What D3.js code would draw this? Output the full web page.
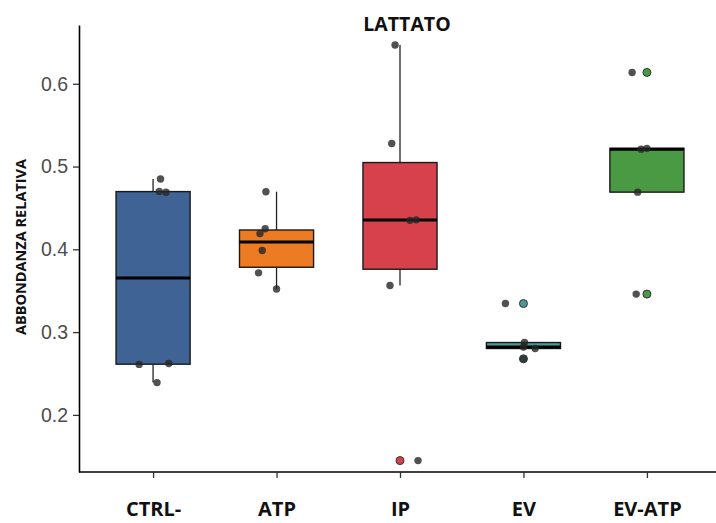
<!DOCTYPE html>
<html>
<head>
<meta charset="utf-8">
<script src="https://cdn.jsdelivr.net/npm/d3@7"></script>
<style>
  body { margin: 0; background: #fff; }
  svg { display: block; }
</style>
</head>
<body>
<svg width="716" height="523"></svg>
<script>
// groups and their fill colours
var groups = ["CTRL-", "ATP", "IP", "EV", "EV-ATP"];
var colors = ["#3e6394", "#ec7b23", "#d7414b", "#4c9a93", "#4a9a44"];

var ctrl   = [0.485, 0.470, 0.469, 0.262, 0.261, 0.239];
var atp    = [0.4696, 0.4248, 0.419, 0.3986, 0.3716, 0.352];
var ip     = [0.6468, 0.5279, 0.4350, 0.4356, 0.3563, 0.1448];
var ev     = [0.3345, 0.2874, 0.2820, 0.2802, 0.2677];
var evatp  = [0.6137, 0.521, 0.522, 0.4691, 0.3459];
var values = [ctrl, atp, ip, ev, evatp];

// horizontal jitter of each point, as a fraction of the category step
var jitter = [
  [0.06, 0.05, 0.105, 0.127, -0.113, 0.032],
  [-0.086, -0.092, -0.134, -0.116, -0.146, 0.0],
  [-0.04, -0.067, 0.081, 0.132, -0.081, 0.146],
  [-0.146, 0.008, 0.0, 0.095, 0.0],
  [-0.12, -0.047, 0.0, -0.075, -0.087]
];

var yTicks = [0.2, 0.3, 0.4, 0.5, 0.6];

var svg = d3.select("svg");

var x = d3.scalePoint().domain(groups).range([79, 721]).padding(0.6);
var y = d3.scaleLinear().domain([0.131, 0.671]).range([472, 25]);
var step = x.step();
var boxW = step * 0.6;

// y axis
var yAxis = svg.append("g")
  .attr("transform", "translate(79,0)")
  .call(d3.axisLeft(y).tickValues(yTicks).tickSize(6).tickSizeOuter(0).tickPadding(5)
    .tickFormat(d3.format(".1f")));
yAxis.select(".domain").attr("stroke", "#000").attr("stroke-width", 1.6);
yAxis.selectAll(".tick line").attr("stroke", "#333").attr("stroke-width", 1.3);
yAxis.selectAll(".tick text")
  .attr("font-family", "Liberation Sans, Arial, sans-serif")
  .attr("font-size", "19.5px")
  .attr("fill", "#4d4d4d");

// x axis
var xAxis = svg.append("g")
  .attr("transform", "translate(0,472)")
  .call(d3.axisBottom(x).tickSize(6).tickSizeOuter(0).tickPadding(24));
xAxis.select(".domain").attr("d", "M79,0H716").attr("stroke", "#000").attr("stroke-width", 1.6);
xAxis.selectAll(".tick line").attr("stroke", "#333").attr("stroke-width", 1.3);
xAxis.selectAll(".tick text")
  .attr("font-family", "Open Sans, sans-serif")
  .attr("font-weight", "bold")
  .attr("font-size", "20px")
  .attr("fill", "#111");

// title and y label
svg.append("text")
  .attr("x", 407).attr("y", 31)
  .attr("text-anchor", "middle")
  .attr("font-family", "Open Sans, sans-serif")
  .attr("font-weight", "bold")
  .attr("font-size", "19.5px")
  .attr("fill", "#111")
  .text("LATTATO");

svg.append("text")
  .attr("transform", "translate(26,247) rotate(-90)")
  .attr("text-anchor", "middle")
  .attr("font-family", "Open Sans, sans-serif")
  .attr("font-weight", "bold")
  .attr("font-size", "14.5px")
  .attr("fill", "#111")
  .text("ABBONDANZA RELATIVA");

// boxplot statistics (ggplot style, R type 7 quantiles)
var stats = values.map(function (v, i) {
  var s = v.slice().sort(d3.ascending);
  var q1 = d3.quantile(s, 0.25), med = d3.quantile(s, 0.5), q3 = d3.quantile(s, 0.75);
  var iqr = q3 - q1;
  var inside = s.filter(d => d >= q1 - 1.5 * iqr && d <= q3 + 1.5 * iqr);
  return {
    group: groups[i], color: colors[i],
    q1: q1, med: med, q3: q3,
    lo: d3.min(inside), hi: d3.max(inside),
    out: s.filter(d => d < q1 - 1.5 * iqr || d > q3 + 1.5 * iqr)
  };
});

var box = svg.append("g").selectAll("g").data(stats).enter().append("g");

box.append("line")
  .attr("x1", d => x(d.group)).attr("x2", d => x(d.group))
  .attr("y1", d => y(d.hi)).attr("y2", d => y(d.q3))
  .attr("stroke", "#222").attr("stroke-width", 1.3);
box.append("line")
  .attr("x1", d => x(d.group)).attr("x2", d => x(d.group))
  .attr("y1", d => y(d.q1)).attr("y2", d => y(d.lo))
  .attr("stroke", "#222").attr("stroke-width", 1.3);

box.append("rect")
  .attr("x", d => x(d.group) - boxW / 2)
  .attr("width", boxW)
  .attr("y", d => y(d.q3))
  .attr("height", d => y(d.q1) - y(d.q3))
  .attr("fill", d => d.color)
  .attr("stroke", "#1a1a1a")
  .attr("stroke-width", 1.4);

box.append("line")
  .attr("x1", d => x(d.group) - boxW / 2).attr("x2", d => x(d.group) + boxW / 2)
  .attr("y1", d => y(d.med)).attr("y2", d => y(d.med))
  .attr("stroke", "#000").attr("stroke-width", 3);

// outliers, in the group colour
box.selectAll(".outlier")
  .data(d => d.out.map(v => ({ v: v, group: d.group, color: d.color })))
  .enter().append("circle")
  .attr("class", "outlier")
  .attr("cx", d => x(d.group))
  .attr("cy", d => y(d.v))
  .attr("r", 4)
  .attr("fill", d => d.color)
  .attr("stroke", "#333")
  .attr("stroke-width", 1);

// jittered raw points
var pts = [];
values.forEach(function (v, i) {
  v.forEach(function (d, j) {
    pts.push({ group: groups[i], v: d, jit: jitter[i][j] });
  });
});

svg.append("g").selectAll("circle")
  .data(pts).enter().append("circle")
  .attr("cx", d => x(d.group) + d.jit * step)
  .attr("cy", d => y(d.v))
  .attr("r", 3.7)
  .attr("fill", "#262626")
  .attr("fill-opacity", 0.8);
</script>
</body>
</html>
